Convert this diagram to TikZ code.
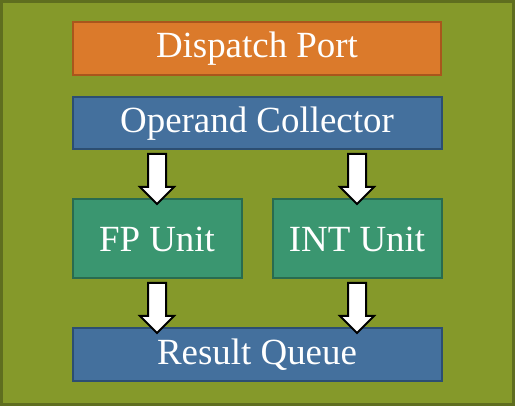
\documentclass[tikz,border=0pt]{standalone}
\usepackage{fontspec}
\setmainfont{Liberation Serif}
\usepackage{tikz}
\usetikzlibrary{shapes.arrows,positioning,calc}
\definecolor{olivebg}{HTML}{85992A}
\definecolor{olivedk}{HTML}{5F6E1F}
\definecolor{portorange}{HTML}{DB7A2B}
\definecolor{portorangedk}{HTML}{A9561C}
\definecolor{stageblue}{HTML}{44709D}
\definecolor{stagebluedk}{HTML}{2C4E72}
\definecolor{unitgreen}{HTML}{3A9670}
\definecolor{unitgreendk}{HTML}{296B4F}
\tikzset{
box/.style={
  draw, line width=0.04cm, text=white, outer sep=0pt,
  font=\fontsize{21}{25}\selectfont
},
port/.style={box, fill=portorange, draw=portorangedk, minimum width=7.36cm, minimum height=1.06cm},
stage/.style={box, fill=stageblue, draw=stagebluedk, minimum width=7.38cm, minimum height=1.05cm},
unit/.style={box, fill=unitgreen, draw=unitgreendk, minimum width=3.38cm, minimum height=1.58cm},
blockarr/.style={
  single arrow, draw=black, fill=white, line width=0.04cm,
  rotate=-90, inner sep=0.16cm, minimum height=1cm,
  single arrow head extend=0.16cm
}
}

\begin{document}
\begin{tikzpicture}

\useasboundingbox (0,0) rectangle (10.3,-8.12);
\draw [fill=olivebg, draw=olivedk, line width=0.06cm] (0.03,-0.03) rectangle (10.27,-8.09);

\node [port] at (5.14,-0.97) (dp) {Dispatch Port};
\node [stage, below=0.44cm of dp] (oc) {Operand Collector};
\node [unit, below=1cm of oc.south west, anchor=north west] (fp) {FP Unit};
\node [unit, below=1cm of oc.south east, anchor=north east] (iu) {INT Unit};
\node [stage, below=1cm of fp.south west, anchor=north west] (rq) {Result Queue};

\foreach \x in {fp,iu} \path (oc.south -| \x) -- (\x.north) node[midway, blockarr] {};
\foreach \x in {fp,iu} \path (\x.south) -- (rq.north -| \x) node[midway, blockarr] {};

\end{tikzpicture}
\end{document}
